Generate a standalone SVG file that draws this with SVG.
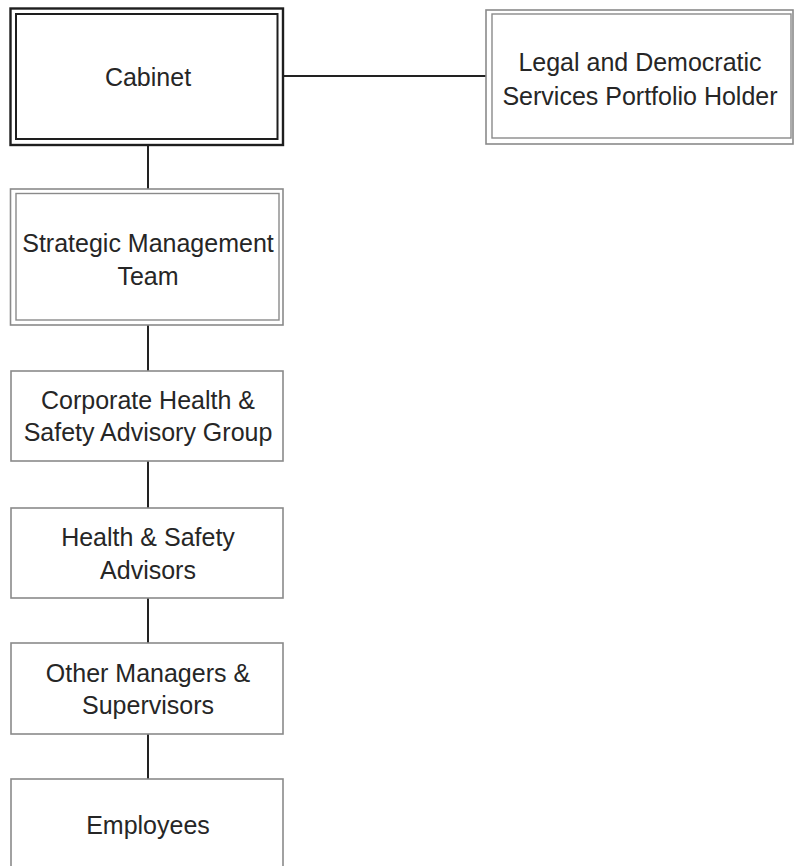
<svg xmlns="http://www.w3.org/2000/svg" width="794" height="866" viewBox="0 0 794 866">
<style>
  .bg { fill: #ffffff; }
  .box { fill: #ffffff; stroke: #8a8a8a; stroke-width: 1.6; }
  .inner { fill: none; stroke: #8a8a8a; stroke-width: 1.4; }
  .dark { fill: #ffffff; stroke: #1e1e1e; stroke-width: 2.4; }
  .darkin { fill: none; stroke: #1e1e1e; stroke-width: 2; }
  .conn { stroke: #222222; stroke-width: 2; fill: none; }
  text { font-family: "Liberation Sans", Arial, sans-serif; font-size: 25px; fill: #262626; text-anchor: middle; }
</style>
<rect class="bg" x="0" y="0" width="794" height="866"/>
<g id="connectors">
  <line class="conn" x1="283" y1="76" x2="486" y2="76"/>
  <line class="conn" x1="148" y1="145" x2="148" y2="189"/>
  <line class="conn" x1="148" y1="325" x2="148" y2="371"/>
  <line class="conn" x1="148" y1="461" x2="148" y2="508"/>
  <line class="conn" x1="148" y1="598" x2="148" y2="643"/>
  <line class="conn" x1="148" y1="734" x2="148" y2="779"/>
</g>
<g id="cabinet">
  <rect class="dark" x="10.5" y="8.5" width="272.5" height="136.5"/>
  <rect class="darkin" x="16" y="14" width="261.5" height="125"/>
  <text x="148" y="86">Cabinet</text>
</g>
<g id="legal">
  <rect class="box" x="486" y="10" width="307" height="134"/>
  <rect class="inner" x="492" y="14" width="299" height="124"/>
  <text x="640" y="71">Legal and Democratic</text>
  <text x="640" y="105">Services Portfolio Holder</text>
</g>
<g id="strategic">
  <rect class="box" x="10.5" y="189" width="272.5" height="136"/>
  <rect class="inner" x="16" y="193.5" width="263" height="126.5"/>
  <text x="148" y="252">Strategic Management</text>
  <text x="148" y="285">Team</text>
</g>
<g id="corporate">
  <rect class="box" x="11" y="371" width="272" height="90"/>
  <text x="148" y="409">Corporate Health &amp;</text>
  <text x="148" y="441">Safety Advisory Group</text>
</g>
<g id="advisors">
  <rect class="box" x="11" y="508" width="272" height="90"/>
  <text x="148" y="546">Health &amp; Safety</text>
  <text x="148" y="579">Advisors</text>
</g>
<g id="managers">
  <rect class="box" x="11" y="643" width="272" height="91"/>
  <text x="148" y="682">Other Managers &amp;</text>
  <text x="148" y="714">Supervisors</text>
</g>
<g id="employees">
  <rect class="box" x="11" y="779" width="272" height="95"/>
  <text x="148" y="834">Employees</text>
</g>
</svg>
